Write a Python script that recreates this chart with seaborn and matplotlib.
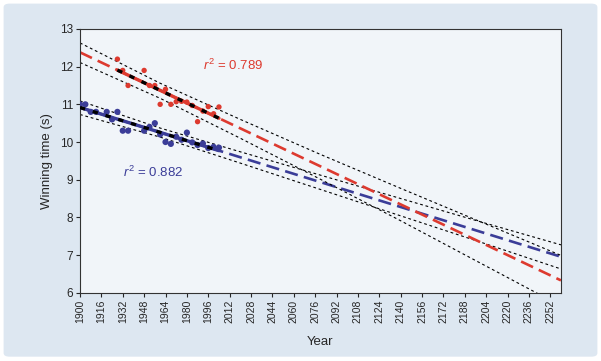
import numpy as np
import pandas as pd
import seaborn as sns
import matplotlib.pyplot as plt
from matplotlib.patches import FancyBboxPatch

# Olympic 100 m winning times
men_years = [1900, 1904, 1908, 1912, 1920, 1924, 1928, 1932, 1936, 1948, 1952, 1956,
             1960, 1964, 1968, 1972, 1976, 1980, 1984, 1988, 1992, 1996, 2000, 2004]
men_times = [11.0, 11.0, 10.8, 10.8, 10.8, 10.6, 10.8, 10.3, 10.3, 10.3, 10.4, 10.5,
             10.2, 10.0, 9.95, 10.14, 10.06, 10.25, 9.99, 9.92, 9.96, 9.84, 9.87, 9.85]
women_years = [1928, 1932, 1936, 1948, 1952, 1956, 1960, 1964, 1968, 1972, 1976, 1980,
               1984, 1988, 1992, 1996, 2000, 2004]
women_times = [12.2, 11.9, 11.5, 11.9, 11.5, 11.5, 11.0, 11.4, 11.0, 11.07, 11.08, 11.06,
               10.97, 10.54, 10.82, 10.94, 10.75, 10.93]

# dotted interval lines
band_years = [1900, 1960, 2020, 2080, 2140, 2200, 2260]
women_upper = [12.63, 11.56, 10.60, 9.67, 8.77, 7.88, 6.99]
women_lower = [12.11, 11.16, 10.10, 9.01, 7.91, 6.78, 5.65]
men_upper = [11.09, 10.37, 9.74, 9.12, 8.50, 7.88, 7.27]
men_lower = [10.73, 10.13, 9.44, 8.74, 8.04, 7.34, 6.63]

tick_years = list(range(1900, 2253, 16))
men_r2 = "0.882"
women_r2 = "0.789"

red = "#dd3a2f"
blue = "#3b3d98"

sns.set_theme(style="ticks")
plt.rcParams["font.family"] = ["Liberation Sans", "DejaVu Sans"]
plt.rcParams["mathtext.fontset"] = "custom"
plt.rcParams["mathtext.it"] = "Liberation Sans:italic"
plt.rcParams["mathtext.rm"] = "Liberation Sans"

fig = plt.figure(figsize=(6.01, 3.61), dpi=100)
fig.patch.set_facecolor("white")
fig.patches.append(FancyBboxPatch((0.006, 0.012), 0.988, 0.978, boxstyle="round,pad=0,rounding_size=0.01",
                                  transform=fig.transFigure, facecolor="#dde7f1", edgecolor="none", zorder=-10))
ax = fig.add_axes([0.1331, 0.1892, 0.8003, 0.7305])
ax.set_facecolor("#f1f5f9")

fit_x = np.array([1900, 2260])
dotted = (0, (2.5, 2.5))
for yrs, times, up, lo, col, size in [(men_years, men_times, men_upper, men_lower, blue, 20),
                                       (women_years, women_times, women_upper, women_lower, red, 15)]:
    sns.lineplot(x=band_years, y=up, color="black", linewidth=0.8, linestyle=dotted, ax=ax)
    sns.lineplot(x=band_years, y=lo, color="black", linewidth=0.8, linestyle=dotted, ax=ax)
    k, b = np.polyfit(yrs, times, 1)
    sns.lineplot(x=fit_x, y=k * fit_x + b, color=col, linewidth=1.9, linestyle=(0, (5, 2.4)), ax=ax)
    data_x = np.array([min(yrs), max(yrs)])
    sns.scatterplot(x=yrs, y=times, color=col, s=size, edgecolor="none", ax=ax, zorder=4)
    sns.lineplot(x=data_x, y=k * data_x + b, color=col, linewidth=2.4, ax=ax, zorder=5)
    sns.lineplot(x=data_x, y=k * data_x + b, color="black", linewidth=2.4,
                 linestyle=(0, (1.6, 2.4)), ax=ax, zorder=6)

ax.text(1992, 11.91, r"$r^2$ = " + women_r2, color=red, fontsize=9.5, va="baseline")
ax.text(1932, 9.06, r"$r^2$ = " + men_r2, color=blue, fontsize=9.5, va="baseline")

ax.set_xlim(1900, 2260)
ax.set_ylim(6, 13)
ax.set_xticks(tick_years)
ax.set_xticklabels([str(t) for t in tick_years], rotation=90, fontsize=7.5)
ax.set_yticks(range(6, 14))
ax.tick_params(axis="y", labelsize=8.5, length=3, width=0.8, pad=2)
ax.tick_params(axis="x", length=3, width=0.8, pad=2)
for s in ax.spines.values():
    s.set_visible(True)
    s.set_color("#333333")
    s.set_linewidth(0.8)
ax.set_xlabel("Year", fontsize=9.5, labelpad=9)
ax.set_ylabel("Winning time (s)", fontsize=9.5, labelpad=5)

fig.savefig("out.png", dpi=100, facecolor=fig.get_facecolor())
